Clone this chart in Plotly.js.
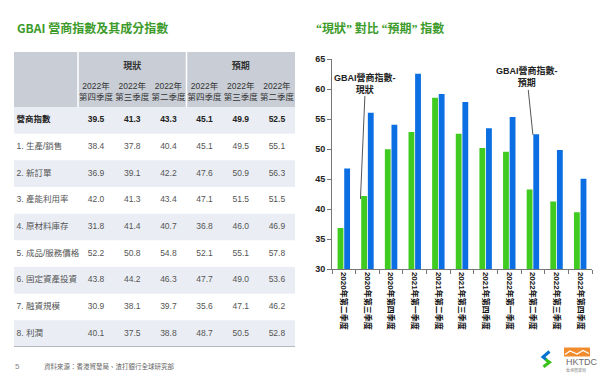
<!DOCTYPE html>
<html><head><meta charset="utf-8">
<script src="https://cdn.plot.ly/plotly-3.0.1.min.js"></script>
<style>html,body{margin:0;padding:0;background:#fff}#chart{width:600px;height:384px}</style>
</head><body><div id="chart"></div>
<script>
// ---- bar chart data ----
const quarters = ['2020年第二季度','2020年第三季度','2020年第四季度','2021年第一季度','2021年第二季度','2021年第三季度','2021年第四季度','2022年第一季度','2022年第二季度','2022年第三季度','2022年第四季度'];
const currentIdx  = [36.9, 42.2, 50.0, 52.9, 58.6, 52.6, 50.2, 49.6, 43.3, 41.3, 39.5];
const expectedIdx = [46.8, 56.1, 54.1, 62.6, 59.2, 57.9, 53.5, 55.4, 52.5, 49.9, 45.1];
const yTicks = [30, 35, 40, 45, 50, 55, 60, 65];

// ---- table data ----
const tableGroups = ['現狀', '預期'];
const tableColYears = ['2022年','2022年','2022年','2022年','2022年','2022年'];
const tableColQuarters = ['第四季度','第三季度','第二季度','第四季度','第三季度','第二季度'];
const rowLabels = ['營商指數','1. 生產/銷售','2. 新訂單','3. 產能利用率','4. 原材料庫存','5. 成品/服務價格','6. 固定資產投資','7. 融資規模','8. 利潤'];
const row0 = [39.5, 41.3, 43.3, 45.1, 49.9, 52.5];
const row1 = [38.4, 37.8, 40.4, 45.1, 49.5, 55.1];
const row2 = [36.9, 39.1, 42.2, 47.6, 50.9, 56.3];
const row3 = [42.0, 41.3, 43.4, 47.1, 51.5, 51.5];
const row4 = [31.8, 41.4, 40.7, 36.8, 46.0, 46.9];
const row5 = [52.2, 50.8, 54.8, 52.1, 55.1, 57.8];
const row6 = [43.8, 44.2, 46.3, 47.7, 49.0, 53.6];
const row7 = [30.9, 38.1, 39.7, 35.6, 47.1, 46.2];
const row8 = [40.1, 37.5, 38.8, 48.7, 50.5, 52.8];
const rowValues = [row0, row1, row2, row3, row4, row5, row6, row7, row8];

// ---- style ----
const GREEN = '#3fcb1f', BLUE = '#0b6fe3', TITLE_GREEN = '#3d9b2c';
const FONT = 'Liberation Sans, Noto Sans CJK TC, sans-serif';
const CJK = 'Noto Sans CJK TC, Liberation Sans, sans-serif';
const W = 600, H = 384;
const px = v => v / W, py = v => 1 - v / H;

// table geometry (axis units: one column = 1, one row = 1)
const labelColUnits = 64 / 36.17;
const headerUnits = 55 / 26.667;
const xLeft = -labelColUnits, nCols = tableColYears.length, nRows = rowLabels.length;
const yTop = -0.5 - headerUnits, yBottom = nRows - 0.5;

const traces = [];
traces.push({type:'bar', x:quarters, y:currentIdx, name:'現狀', marker:{color:GREEN}, xaxis:'x', yaxis:'y', hoverinfo:'skip'});
traces.push({type:'bar', x:quarters, y:expectedIdx, name:'預期', marker:{color:BLUE}, xaxis:'x', yaxis:'y', hoverinfo:'skip'});

// table body text
rowValues.forEach((vals, r) => {
  traces.push({type:'scatter', mode:'text', xaxis:'x2', yaxis:'y2', cliponaxis:false, hoverinfo:'skip',
    x: vals.map((v, c) => c + 0.5), y: vals.map(() => r),
    text: vals.map(v => v.toFixed(1)),
    textfont:{family:FONT, size:8.5, color: r === 0 ? '#222' : '#555', weight: r === 0 ? 'bold' : 'normal'}});
});
traces.push({type:'scatter', mode:'text', xaxis:'x2', yaxis:'y2', cliponaxis:false, hoverinfo:'skip',
  x: rowLabels.map(() => xLeft + 0.07), y: rowLabels.map((l, r) => r), text: rowLabels.map((l, r) => r === 0 ? '<b>' + l + '</b>' : l),
  textposition:'middle right', textfont:{family:FONT, size:8.5, color: rowLabels.map((l, r) => r === 0 ? '#222' : '#555')}});
// header text
traces.push({type:'scatter', mode:'text', xaxis:'x2', yaxis:'y2', cliponaxis:false, hoverinfo:'skip',
  x: tableColYears.map((t, c) => c + 0.5), y: tableColYears.map(() => -1.04),
  text: tableColYears.map((t, c) => t + '<br>' + tableColQuarters[c]),
  textfont:{family:FONT, size:8.5, color:'#333'}});
traces.push({type:'scatter', mode:'text', xaxis:'x2', yaxis:'y2', cliponaxis:false, hoverinfo:'skip',
  x: tableGroups.map((g, i) => i * 3 + 1.5), y: tableGroups.map(() => -2.01),
  text: tableGroups, textfont:{family:FONT, size:9, color:'#333', weight:'bold'}});

const shapes = [];
shapes.push({type:'rect', xref:'x2', yref:'y2', x0:xLeft, x1:nCols, y0:yTop, y1:-0.5, fillcolor:'#c9ced6', line:{width:0}, layer:'below'});
rowLabels.forEach((l, r) => {
  if (r % 2 === 0) shapes.push({type:'rect', xref:'x2', yref:'y2', x0:xLeft, x1:nCols, y0:r - 0.5, y1:r + 0.5, fillcolor:'#eaeef4', line:{width:0}, layer:'below'});
});
[0, 3].forEach(xv => shapes.push({type:'line', xref:'x2', yref:'y2', x0:xv, x1:xv, y0:yTop, y1:-0.5, line:{color:'#ffffff', width:1.5}, layer:'below'}));
shapes.push({type:'line', xref:'x2', yref:'y2', x0:xLeft, x1:nCols, y0:yBottom, y1:yBottom, line:{color:'#a3a7ad', width:1.5}});

// logos (decoration)
const P = pts => 'M ' + pts.map(p => px(p[0]).toFixed(5) + ' ' + py(p[1]).toFixed(5)).join(' L ');
shapes.push({type:'path', xref:'paper', yref:'paper', path:P([[549.5,351.5],[543,357],[546.5,359.8]]), line:{color:'#0473cf', width:3}});
shapes.push({type:'path', xref:'paper', yref:'paper', path:P([[545.5,359.5],[549.5,362.3],[543.5,366.8]]), line:{color:'#38c21a', width:3}});
shapes.push({type:'rect', xref:'paper', yref:'paper', x0:px(564), x1:px(590), y0:py(356.5), y1:py(347.5), fillcolor:'#f08c2e', line:{width:0}});
shapes.push({type:'path', xref:'paper', yref:'paper', path:P([[565,354.5],[570,351],[577,354],[583,350.5],[589,353.5]]), line:{color:'#ffffff', width:1.2}});

const Q = s => '<span style="font-family:Liberation Serif">' + s + '</span>';
const annotations = [
  {xref:'paper', yref:'paper', x:px(15), y:py(27), xanchor:'left', yanchor:'middle', showarrow:false,
   text:'<b>GBAI 營商指數及其成分指數</b>', font:{family:CJK, size:12, color:TITLE_GREEN}},
  {xref:'paper', yref:'paper', x:px(314), y:py(27), xanchor:'left', yanchor:'middle', showarrow:false,
   text:'<b>' + Q('“') + '現狀' + Q('”') + ' 對比 ' + Q('“') + '預期' + Q('”') + ' 指數</b>', font:{family:CJK, size:12, color:TITLE_GREEN}},
  {xref:'paper', yref:'paper', x:px(13), y:py(366), xanchor:'left', yanchor:'middle', showarrow:false,
   text:'5', font:{family:FONT, size:8, color:'#888'}},
  {xref:'paper', yref:'paper', x:px(42), y:py(366), xanchor:'left', yanchor:'middle', showarrow:false,
   text:'資料來源：香港貿發局、渣打銀行全球研究部', font:{family:CJK, size:6.5, color:'#666'}},
  {xref:'paper', yref:'paper', x:px(563.5), y:py(362), xanchor:'left', yanchor:'middle', showarrow:false,
   text:'HKTDC', font:{family:FONT, size:9, color:'#6b6b6b'}},
  {xref:'paper', yref:'paper', x:px(564), y:py(369.5), xanchor:'left', yanchor:'middle', showarrow:false,
   text:'香港貿發局', font:{family:CJK, size:4, color:'#888'}},
  {xref:'x', yref:'y', x:quarters[1], y:currentIdx[1] - 0.5, xshift:-7, ax:5, ay:-116, showarrow:true, arrowhead:0, arrowwidth:1, arrowcolor:'#555',
   text:'GBAI營商指數-<br>現狀', font:{family:FONT, size:9, color:'#222', weight:'bold'}},
  {xref:'x', yref:'y', x:quarters[8], y:expectedIdx[8] - 0.1, xshift:0, ax:-6, ay:-58, showarrow:true, arrowhead:0, arrowwidth:1, arrowcolor:'#555',
   text:'GBAI營商指數-<br>預期', font:{family:FONT, size:9, color:'#222', weight:'bold'}}
];

const layout = {
  width:W, height:H, margin:{l:0, r:0, t:0, b:0}, paper_bgcolor:'#fff', plot_bgcolor:'rgba(0,0,0,0)',
  showlegend:false, barmode:'group', bargap:0.44, bargroupgap:0.12,
  xaxis:{domain:[px(332), px(592)], type:'category', showline:true, linecolor:'#777', linewidth:1,
    ticks:'outside', ticklen:4, tickcolor:'#777', tickson:'boundaries', tickangle:90,
    tickfont:{family:FONT, size:8, color:'#111', weight:'bold'}, showgrid:false, zeroline:false, fixedrange:true},
  yaxis:{domain:[1 - 269.3 / H, 1 - 59.3 / H], range:[30, 65], tickvals:yTicks, showline:true, linecolor:'#777', linewidth:1,
    ticks:'outside', ticklen:4, tickcolor:'#777', tickfont:{family:FONT, size:9, color:'#222', weight:'bold'},
    showgrid:false, zeroline:false, fixedrange:true},
  xaxis2:{domain:[px(14), px(295)], range:[xLeft, nCols], visible:false, fixedrange:true},
  yaxis2:{domain:[1 - 347 / H, 1 - 52 / H], range:[yBottom, yTop], visible:false, fixedrange:true},
  shapes:shapes, annotations:annotations
};
Plotly.newPlot('chart', traces, layout, {staticPlot:true, displayModeBar:false});
</script></body></html>
